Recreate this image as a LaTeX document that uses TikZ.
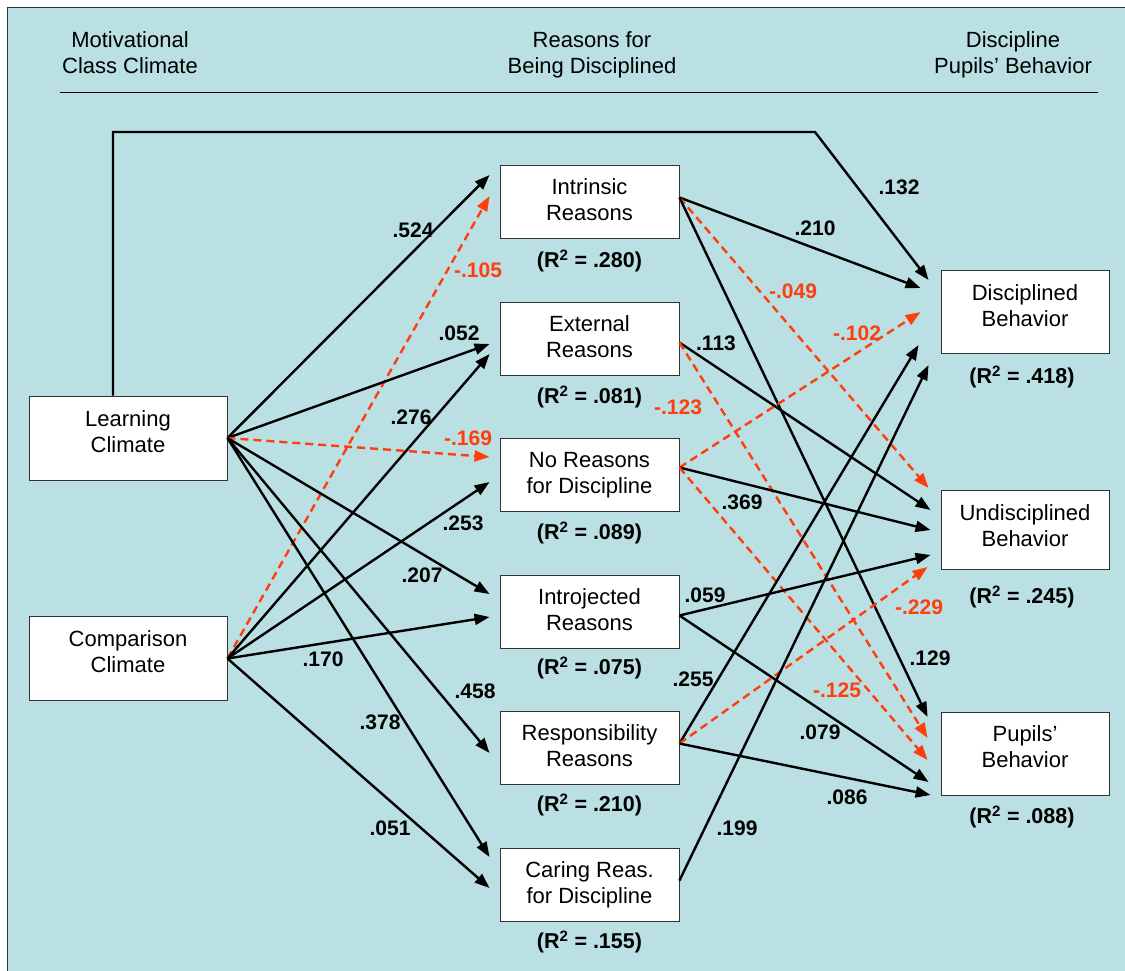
\documentclass[tikz,border=0pt]{standalone}
\usepackage{fontspec}
\setmainfont{Liberation Sans}
\usetikzlibrary{arrows.meta,calc}
\definecolor{bg}{RGB}{186,224,227}
\definecolor{neg}{RGB}{255,62,12}
\begin{document}
\begin{tikzpicture}[x=1pt,y=-1pt,
  box/.style={draw=black!80, line width=0.9pt, fill=white, align=center,
    font=\fontsize{22}{26}\selectfont, inner sep=0pt, text depth=0pt},
  lbox/.style={box, minimum width=198pt, minimum height=84pt, text height=28pt},
  mbox/.style={box, minimum width=179pt, minimum height=73pt, text height=38pt},
  rbox/.style={box, minimum width=168pt, minimum height=83pt, text height=28pt},
  hdr/.style={align=center, font=\fontsize{22}{26}\selectfont, inner sep=0pt,
    text height=41pt, text depth=0pt},
  rsq/.style={font=\bfseries\fontsize{21.5}{26}\selectfont, inner sep=0pt},
  lbl/.style={font=\bfseries\fontsize{21}{25}\selectfont, inner sep=0pt},
  nlbl/.style={lbl, text=neg},
  arr/.style={line width=2.4pt, -{Triangle[length=15pt,width=11pt]}},
  narr/.style={arr, neg, dash pattern=on 8pt off 5pt}
]
\useasboundingbox (0,0) rectangle (1125,970);
\fill[bg] (7,7) rectangle (1130,975);
\draw[black!80, line width=1pt] (7,975) -- (7,7) -- (1130,7);

% headers
\node[hdr] (h1) at (130,53) {Motivational\\Class Climate};
\node[hdr] (h2) at (592,53) {Reasons for\\Being Disciplined};
\node[hdr] (h3) at (1013,53) {Discipline\\Pupils' Behavior};
\draw[line width=1pt] (60,92) -- (1098,92);

% left boxes
\node[lbox] (lc) at (128,438) {Learning\\Climate};
\node[lbox] (cc) at (128,658.5) {Comparison\\Climate};

% middle boxes
\node[mbox] (in) at (589.5,201.5) {Intrinsic\\Reasons};
\node[mbox] (ex) at (589.5,338.5) {External\\Reasons};
\node[mbox] (nr) at (589.5,474.5) {No Reasons\\for Discipline};
\node[mbox] (ij) at (589.5,611.5) {Introjected\\Reasons};
\node[mbox] (rs) at (589.5,747.5) {Responsibility\\Reasons};
\node[mbox] (cr) at (589.5,884.5) {Caring Reas.\\for Discipline};

\node[rsq] (rin) at (589.5,261) {(R\textsuperscript{2} = .280)};
\node[rsq] (rex) at (589.5,397) {(R\textsuperscript{2} = .081)};
\node[rsq] (rnr) at (589.5,533) {(R\textsuperscript{2} = .089)};
\node[rsq] (rij) at (589.5,668) {(R\textsuperscript{2} = .075)};
\node[rsq] (rrs) at (589.5,805) {(R\textsuperscript{2} = .210)};
\node[rsq] (rcr) at (589.5,942) {(R\textsuperscript{2} = .155)};

% right boxes
\node[rbox] (db) at (1025,312) {Disciplined\\Behavior};
\node[rbox, minimum height=79pt, text height=33pt] (ub) at (1025,529.5) {Undisciplined\\Behavior};
\node[rbox] (pb) at (1025,753.5) {Pupils'\\Behavior};

\node[rsq] (rdb) at (1022,377) {(R\textsuperscript{2} = .418)};
\node[rsq] (rub) at (1022,597) {(R\textsuperscript{2} = .245)};
\node[rsq] (rpb) at (1022,817) {(R\textsuperscript{2} = .088)};

% direct path
\coordinate (bend) at (815,132);
\draw[arr] ($(lc.north)+(-15,0)$) |- (bend) -- ($(db.west)+(-12,-32)$);

% climate -> reasons
\draw[arr] (lc.east) -- ($(in.west)+(-10,-26.5)$);
\draw[narr] (cc.east) -- ($(in.west)+(-10,-5.5)$);
\draw[arr] (lc.east) -- ($(ex.west)+(-10,5.5)$);
\draw[arr] (cc.east) -- ($(ex.west)+(-10,15.5)$);
\draw[narr] (lc.east) -- ($(nr.west)+(-10,-17.5)$);
\draw[arr] (cc.east) -- ($(nr.west)+(-10,7.5)$);
\draw[arr] (lc.east) -- ($(ij.west)+(-10,-17.5)$);
\draw[arr] (cc.east) -- ($(ij.west)+(-10,5.5)$);
\draw[arr] (lc.east) -- ($(rs.west)+(-10,5.5)$);
\draw[arr] (lc.east) -- ($(cr.west)+(-10,-27.5)$);
\draw[arr] (cc.east) -- ($(cr.west)+(-10,3.5)$);

% reasons -> behaviour
\draw[arr] ($(in.east)+(0,-4)$) -- ($(db.west)+(-20,-24)$);
\draw[narr] ($(in.east)+(0,-4)$) -- ($(ub.west)+(-12,-41.5)$);
\draw[arr] ($(in.east)+(0,-4)$) -- ($(pb.west)+(-13,-36.5)$);
\draw[arr] ($(ex.east)+(0,4)$) -- ($(ub.west)+(-10,-19.5)$);
\draw[narr] ($(ex.east)+(0,4)$) -- ($(pb.west)+(-13,-15.5)$);
\draw[narr] ($(nr.east)+(0,-7)$) -- ($(db.west)+(-20,0)$);
\draw[arr] ($(nr.east)+(0,-7)$) -- ($(ub.west)+(-10,0.5)$);
\draw[narr] ($(nr.east)+(0,-7)$) -- ($(pb.west)+(-13,6.5)$);
\draw[arr] ($(ij.east)+(0,4)$) -- ($(ub.west)+(-10,25.5)$);
\draw[arr] ($(ij.east)+(0,4)$) -- ($(pb.west)+(-12,28.5)$);
\draw[arr] ($(rs.east)+(0,-4)$) -- ($(db.west)+(-22,33)$);
\draw[narr] ($(rs.east)+(0,-4)$) -- ($(ub.west)+(-13,37.5)$);
\draw[arr] ($(rs.east)+(0,-4)$) -- ($(pb.west)+(-10,41.5)$);
\draw[arr] ($(cr.east)+(0,-4)$) -- ($(db.west)+(-12,53)$);

% coefficient labels
\node[lbl] (l524) at (413,230) {.524};
\node[nlbl] (l105) at (478,270) {-.105};
\node[lbl] (l052) at (459,333) {.052};
\node[lbl] (l276) at (411,417) {.276};
\node[nlbl] (l169) at (468,438) {-.169};
\node[lbl] (l253) at (463,523) {.253};
\node[lbl] (l207) at (422,575) {.207};
\node[lbl] (l170) at (323,659) {.170};
\node[lbl] (l458) at (475,691) {.458};
\node[lbl] (l378) at (380,722) {.378};
\node[lbl] (l051) at (390,828) {.051};

\node[lbl] (l132) at (899,187) {.132};
\node[lbl] (l210) at (815,228) {.210};
\node[nlbl] (l049) at (793,291) {-.049};
\node[lbl] (l113) at (716,343) {.113};
\node[nlbl] (l102) at (857,333) {-.102};
\node[nlbl] (l123) at (678,407) {-.123};
\node[lbl] (l369) at (742,502) {.369};
\node[lbl] (l059) at (705,595) {.059};
\node[nlbl] (l229) at (919,607) {-.229};
\node[lbl] (l129) at (930,658) {.129};
\node[nlbl] (l125) at (837,690) {-.125};
\node[lbl] (l255) at (693,679) {.255};
\node[lbl] (l079) at (820,732) {.079};
\node[lbl] (l086) at (847,797) {.086};
\node[lbl] (l199) at (737,828) {.199};
\end{tikzpicture}
\end{document}
